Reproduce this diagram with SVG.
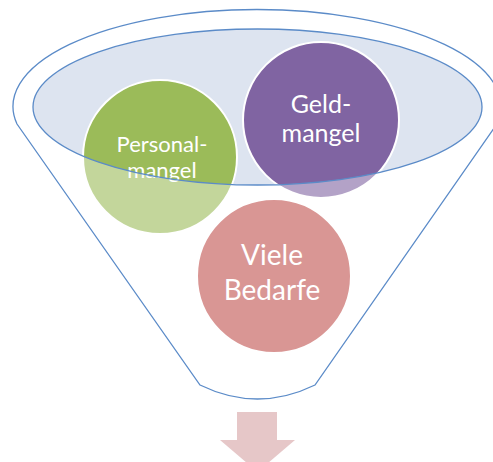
<svg xmlns="http://www.w3.org/2000/svg" width="493" height="462" viewBox="0 0 493 462">
<style>
.circ{stroke:#ffffff;stroke-width:2}
.lbl{font-family:Lato,"Open Sans","Liberation Sans",sans-serif;fill:#ffffff;text-anchor:middle}
.outline{fill:none;stroke:#5b8bc8;stroke-width:1.3}
</style>
<rect width="493" height="462" fill="#ffffff"/>
<g id="funnel-top">
<ellipse cx="257.5" cy="107" rx="224.5" ry="78" fill="#dde4f0"/>
</g>
<g id="node-personalmangel">
<circle class="circ" cx="160" cy="157" r="77" fill="#9bbb59"/>
<text class="lbl" font-size="22"><tspan x="162" y="152">Personal-</tspan><tspan x="162" y="178">mangel</tspan></text>
</g>
<g id="node-geldmangel">
<circle class="circ" cx="321" cy="120" r="78" fill="#8064a2"/>
<text class="lbl" font-size="25"><tspan x="321" y="113">Geld-</tspan><tspan x="321" y="142">mangel</tspan></text>
</g>
<g id="node-vielebedarfe">
<circle class="circ" cx="274" cy="276" r="77" fill="#c0504d"/>
<text class="lbl" font-size="28"><tspan x="272" y="265">Viele</tspan><tspan x="272" y="300">Bedarfe</tspan></text>
</g>
<g id="funnel-body">
<path fill="#ffffff" fill-opacity="0.4" fill-rule="evenodd" d="M17,124 A244,97 0 1 1 497,124 L315,385 Q257.5,413 200,385 Z M33,107 A224.5,78 0 1 0 482,107 A224.5,78 0 1 0 33,107 Z"/>
<path class="outline" d="M17,124 A244,97 0 1 1 497,124 L315,385 Q257.5,413 200,385 Z"/>
<ellipse class="outline" cx="257.5" cy="107" rx="224.5" ry="78"/>
</g>
<g id="connectors">
<path id="output-arrow" fill="#e6c7c8" d="M237,412 L277,412 L277,440 L295,440 L257.5,472 L220,440 L237,440 Z"/>
</g>
</svg>
